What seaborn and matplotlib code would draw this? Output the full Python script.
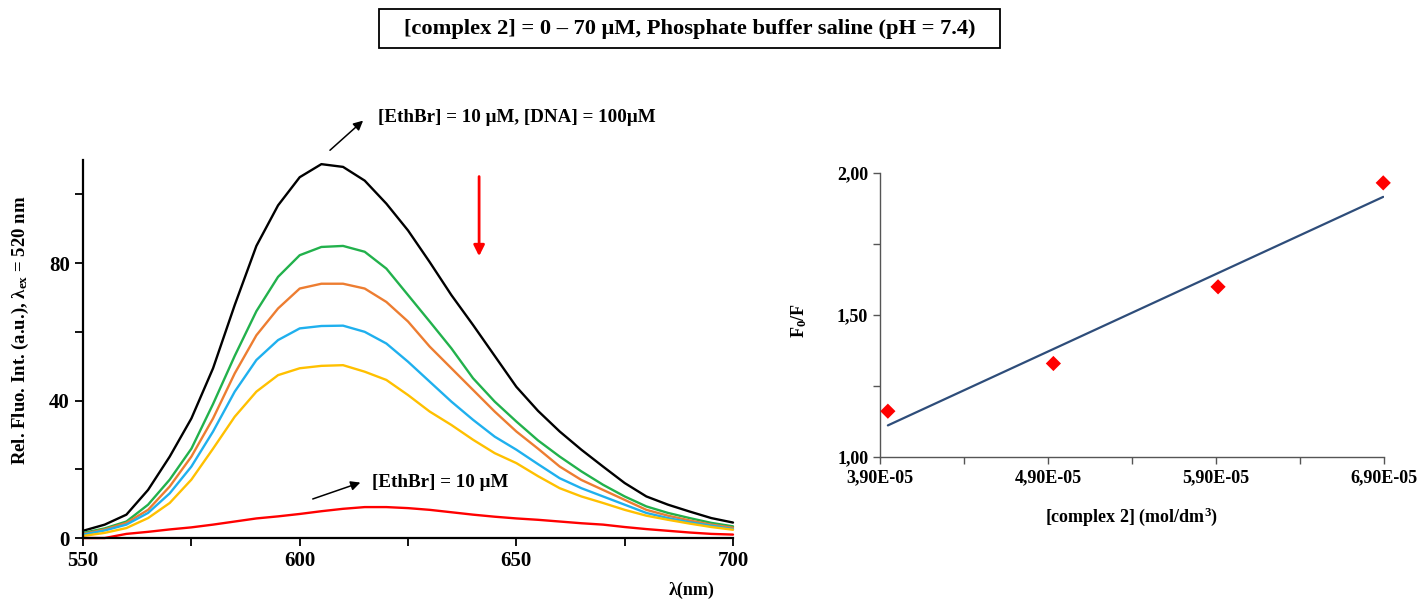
import numpy as np
import pandas as pd
import matplotlib
matplotlib.use("Agg")
import matplotlib.pyplot as plt
from matplotlib.patches import Rectangle
import seaborn as sns

# ---------------- data ----------------
wavelength = list(range(550, 701, 5))

ethbr_dna = [2.1, 3.9, 6.8, 14.0, 23.7, 34.8, 49.4, 67.8, 85.0, 96.8, 105.0, 108.8, 108.0, 104.0,
             97.3, 89.5, 80.3, 70.7, 62.0, 53.0, 44.0, 37.0, 31.0, 25.7, 20.8, 16.0, 12.1, 9.7,
             7.7, 5.8, 4.5]
complex_a = [1.5, 2.8, 4.8, 9.7, 17.0, 26.0, 39.0, 53.0, 66.0, 76.0, 82.3, 84.7, 85.0, 83.3,
             78.4, 70.7, 63.0, 55.2, 46.5, 39.7, 33.9, 28.4, 23.7, 19.4, 15.5, 12.1, 9.2, 7.3,
             5.8, 4.4, 3.4]
complex_b = [1.2, 2.5, 4.4, 8.2, 15.0, 23.7, 34.8, 47.9, 59.0, 66.8, 72.6, 74.0, 74.0, 72.6,
             68.7, 63.0, 55.7, 49.4, 43.1, 36.8, 31.0, 26.0, 20.8, 16.9, 14.0, 11.1, 8.2, 6.5,
             5.1, 3.9, 3.0]
complex_c = [1.0, 2.2, 3.9, 7.3, 13.0, 20.8, 31.0, 42.6, 51.8, 57.6, 61.0, 61.7, 61.8, 60.0,
             56.6, 51.3, 45.5, 39.7, 34.4, 29.5, 25.7, 21.5, 17.4, 14.5, 12.1, 9.7, 7.3, 5.8,
             4.6, 3.6, 2.6]
complex_d = [0.6, 1.5, 2.9, 5.8, 10.2, 17.0, 26.0, 35.3, 42.6, 47.4, 49.4, 50.1, 50.3, 48.4,
             46.0, 41.6, 36.8, 32.9, 28.6, 24.7, 21.8, 18.0, 14.5, 12.1, 10.2, 8.2, 6.5, 5.3,
             4.2, 3.2, 2.4]
ethbr_only = [0.0, 0.0, 1.2, 1.8, 2.5, 3.1, 3.9, 4.8, 5.7, 6.3, 7.0, 7.8, 8.5, 9.0,
              9.0, 8.7, 8.2, 7.5, 6.8, 6.2, 5.7, 5.3, 4.8, 4.3, 3.9, 3.2, 2.6, 2.1,
              1.6, 1.2, 1.0]

series_names = ["EthBr+DNA", "c1", "c2", "c3", "c4", "EthBr"]
series_colors = ["#000000", "#22b14c", "#ed7d31", "#1fb0ee", "#ffc000", "#ff0000"]

complex_conc = [3.947e-5, 4.932e-5, 5.912e-5, 6.895e-5]
f0_over_f = [1.162, 1.33, 1.60, 1.966]

x_ticks_left = [550, 600, 650, 700]
y_ticks_left = [0, 40, 80]
x_ticks_right = [3.9e-5, 4.9e-5, 5.9e-5, 6.9e-5]
x_ticklabels_right = ["3,90E-05", "4,90E-05", "5,90E-05", "6,90E-05"]
y_ticks_right = [1.0, 1.5, 2.0]
y_ticklabels_right = ["1,00", "1,50", "2,00"]

# ---------------- style ----------------
sns.set_theme(style="white")
plt.rcParams["font.family"] = ["Liberation Serif", "DejaVu Serif"]
plt.rcParams["font.weight"] = "bold"
plt.rcParams["mathtext.fontset"] = "custom"
plt.rcParams["mathtext.rm"] = "Liberation Serif:bold"
plt.rcParams["mathtext.it"] = "Liberation Serif:italic:bold"
plt.rcParams["mathtext.bf"] = "Liberation Serif:bold"

fig = plt.figure(figsize=(14.2, 6.0), dpi=100)
ax1 = fig.add_axes([0.0585, 0.1033, 0.4577, 0.63])
ax2 = fig.add_axes([0.6197, 0.238, 0.355, 0.4733])

# ---------------- left: spectra ----------------
all_vals = [ethbr_dna, complex_a, complex_b, complex_c, complex_d, ethbr_only]
df = pd.DataFrame({
    "wl": wavelength * len(series_names),
    "val": sum(all_vals, []),
    "s": sum([[n] * len(wavelength) for n in series_names], []),
})
sns.lineplot(data=df, x="wl", y="val", hue="s", hue_order=series_names,
             palette=series_colors, estimator=None, lw=1.7, legend=False, ax=ax1,
             clip_on=False)

ax1.set_xlim(550, 700)
ax1.set_ylim(0, 110)
ax1.set_xticks(x_ticks_left)
ax1.set_xticks([575, 625, 675], minor=True)
ax1.set_yticks(y_ticks_left)
ax1.set_yticks([20, 60, 100], minor=True)
ax1.tick_params(axis="both", which="both", direction="out", length=6, width=1.3,
                colors="black", labelsize=15, bottom=True, left=True)
for lab in ax1.get_xticklabels() + ax1.get_yticklabels():
    lab.set_fontweight("bold")
for sp in ["top", "right"]:
    ax1.spines[sp].set_visible(False)
for sp in ["left", "bottom"]:
    ax1.spines[sp].set_color("black")
    ax1.spines[sp].set_linewidth(1.6)

ax1.set_ylabel("Rel. Fluo. Int. (a.u.), λ$_{\\mathrm{ex}}$ = 520 nm", fontsize=13.5,
               fontweight="bold", color="black")
ax1.yaxis.set_label_coords(-0.08, 0.55)
ax1.set_xlabel("λ(nm)", fontsize=13, fontweight="bold", color="black")
ax1.xaxis.set_label_coords(0.937, -0.115)

ax1.annotate("", xy=(615.1, 122.0), xytext=(606.5, 112.3),
             arrowprops=dict(arrowstyle="-|>", color="black", lw=1.1, mutation_scale=14),
             annotation_clip=False)
ax1.text(618.1, 122.3, "[EthBr] = 10 μM, [DNA] = 100μM", fontsize=13.7,
         fontweight="bold", va="center", ha="left", color="black", clip_on=False)
ax1.annotate("", xy=(614.6, 16.4), xytext=(602.4, 11.1),
             arrowprops=dict(arrowstyle="-|>", color="black", lw=1.1, mutation_scale=14))
ax1.text(616.7, 16.1, "[EthBr] = 10 μM", fontsize=13.7, fontweight="bold",
         va="center", ha="left", color="black")
ax1.annotate("", xy=(641.4, 81.2), xytext=(641.4, 106.0),
             arrowprops=dict(arrowstyle="-|>", color="#ff0000", lw=2.0, mutation_scale=16))

# ---------------- right: Stern-Volmer ----------------
sv = pd.DataFrame({"conc": complex_conc, "ratio": f0_over_f})
sns.regplot(data=sv, x="conc", y="ratio", ci=None, ax=ax2, scatter=False,
            line_kws=dict(color="#2e4d7a", lw=1.6))
sns.scatterplot(data=sv, x="conc", y="ratio", marker="D", color="#ff0000", s=60,
                edgecolor="none", ax=ax2, zorder=5, clip_on=False)

ax2.set_xlim(3.9e-5, 6.9e-5)
ax2.set_ylim(1.0, 2.0)
ax2.set_xticks(x_ticks_right)
ax2.set_xticklabels(x_ticklabels_right)
ax2.set_xticks([4.4e-5, 5.4e-5, 6.4e-5], minor=True)
ax2.set_yticks(y_ticks_right)
ax2.set_yticklabels(y_ticklabels_right)
ax2.set_yticks([1.25, 1.75], minor=True)
ax2.tick_params(axis="both", which="both", direction="out", length=5, width=1.0,
                colors="#555555", labelcolor="black", labelsize=13, bottom=True, left=True)
for lab in ax2.get_xticklabels() + ax2.get_yticklabels():
    lab.set_fontweight("bold")
for sp in ["top", "right"]:
    ax2.spines[sp].set_visible(False)
for sp in ["left", "bottom"]:
    ax2.spines[sp].set_color("#555555")
    ax2.spines[sp].set_linewidth(1.0)

ax2.set_ylabel("F$_0$/F", fontsize=13, fontweight="bold", color="black")
ax2.yaxis.set_label_coords(-0.14, 0.48)
ax2.set_xlabel("[complex 2] (mol/dm$^3$)", fontsize=13, fontweight="bold", color="black")
ax2.xaxis.set_label_coords(0.5, -0.17)

# ---------------- title box ----------------
fig.patches.append(Rectangle((379 / 1420, 1 - 48 / 600), 621 / 1420, 39 / 600,
                             transform=fig.transFigure, fill=False, ec="black", lw=1.3))
fig.text(689.5 / 1420, 1 - 29 / 600,
         "[complex 2] = 0 – 70 μM, Phosphate buffer saline (pH = 7.4)",
         fontsize=16.2, fontweight="bold", ha="center", va="center", color="black")

fig.savefig("out.png", dpi=100)
